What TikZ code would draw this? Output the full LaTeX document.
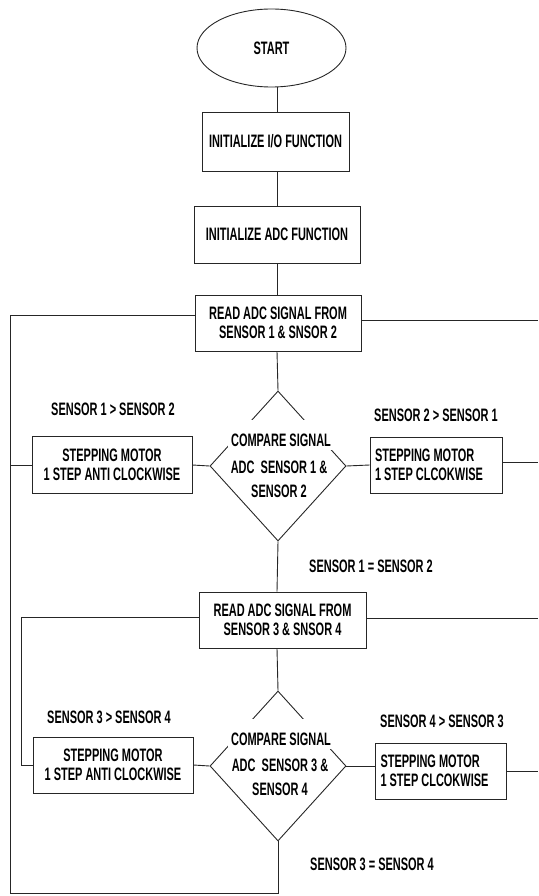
\documentclass[tikz,border=0pt]{standalone}
\usepackage{fontspec}
\setmainfont{Liberation Sans}[FakeStretch=0.61]
\usetikzlibrary{shapes.geometric}

\begin{document}
\begin{tikzpicture}[x=1pt, y=-1pt,
		txt/.style={font=\bfseries\fontsize{18}{19}\selectfont, inner sep=0pt},
		wide/.style={font=\bfseries\fontsize{18}{24}\selectfont, inner sep=0pt, align=center},
		flowbox/.style={txt, draw=black!85, line width=0.9pt, align=center},
		decide/.style={diamond, draw=black!85, line width=0.9pt, inner sep=0pt, minimum width=136, minimum height=150},
		cut/.style={txt, fill=white, anchor=base, text height=25, text depth=1, inner xsep=3, inner ysep=2},
		link/.style={draw=black!85, line width=0.9pt}]
	\useasboundingbox (0,0) rectangle (538,896);
	\coordinate (col) at (277,0);
	\coordinate (edge) at (538,0);
	\coordinate (loop) at (21,0);
	\coordinate (corner) at (10,893);
	% main column
	\node[ellipse, draw=black!85, line width=0.9pt, txt, minimum width=149, minimum height=78] (start) at (271.5,48) {START};
	\node[flowbox, minimum width=147, minimum height=59] (io) at (275.5,141.5) {INITIALIZE I/O FUNCTION};
	\node[flowbox, minimum width=166, minimum height=57] (adc) at (277,234.5) {INITIALIZE ADC FUNCTION};
	\node[flowbox, minimum width=166, minimum height=56] (read1) at (278,323) {READ ADC SIGNAL FROM\\SENSOR 1 \& SNSOR 2};
	\node[decide] (dia1) at (278,466) {};
	\node[cut] (cmp1) at (281,446.5) {COMPARE SIGNAL};
	\node[wide] (adc1) at (279,479) {ADC\ \ SENSOR 1 \&\\SENSOR 2};
	\node[flowbox, minimum width=160, minimum height=57] (left1) at (112,465) {STEPPING MOTOR\\1 STEP ANTI CLOCKWISE};
	\node[flowbox, align=flush left, text width=122, minimum width=132, minimum height=56] (right1) at (436,465) {STEPPING MOTOR\\1 STEP CLCOKWISE};
	\node[flowbox, minimum width=167, minimum height=56] (read2) at (282.5,620) {READ ADC SIGNAL FROM\\SENSOR 3 \& SNSOR 4};
	\node[decide] (dia2) at (278,766) {};
	\node[cut] (cmp2) at (281,745.5) {COMPARE SIGNAL};
	\node[wide] (adc2) at (280,777) {ADC\ \ SENSOR 3 \&\\SENSOR 4};
	\node[flowbox, minimum width=160, minimum height=56] (left2) at (113,765) {STEPPING MOTOR\\1 STEP ANTI CLOCKWISE};
	\node[flowbox, align=flush left, text width=121, minimum width=131, minimum height=56] (right2) at (441,771) {STEPPING MOTOR\\1 STEP CLCOKWISE};
	% branch labels
	\foreach \x/\y/\name/\text in {
		113/409/lt1/SENSOR 1 > SENSOR 2,
		436/415/gt1/SENSOR 2 > SENSOR 1,
		371/566/eq1/SENSOR 1 = SENSOR 2,
		109/717/lt2/SENSOR 3 > SENSOR 4,
		442/721/gt2/SENSOR 4 > SENSOR 3,
		372/864/eq2/SENSOR 3 = SENSOR 4
	}{
		\node[txt] (\name) at (\x,\y) {\text};
	}
	% ends of the lines that leave the picture
	\coordinate (r1in) at ([yshift=8pt]read1.west);
	\coordinate (r1out) at ([yshift=3pt]read1.east);
	\coordinate (m1out) at ([yshift=3pt]right1.east);
	\coordinate (r2in) at ([yshift=3pt]read2.west);
	\coordinate (r2out) at ([yshift=2pt]read2.east);
	% connectors
	\draw[link] (start.south -| col) -- (io.north -| col);
	\draw[link] (io.south -| col) -- (adc.north -| col);
	\draw[link] (adc.south -| col) -- (read1.north -| col);
	\draw[link] (read1.south -| col) -- (dia1.north);
	\draw[link] (dia1.west) -- (left1.east);
	\draw[link] (dia1.east) -- (right1.west);
	\draw[link] (dia1.south) -- (read2.north -| col);
	\draw[link] (read2.south -| col) -- (dia2.north);
	\draw[link] (dia2.west) -- (left2.east);
	\draw[link] (dia2.east) -- (dia2.east -| right2.west);
	% loops back
	\draw[link] (dia2.south) |- (corner) |- (r1in);
	\draw[link] (left1.west) -- (corner |- left1.west);
	\draw[link] (r2in) -| (loop |- left2.west) -- (left2.west);
	\draw[link] (r1out) -- (edge |- r1out);
	\draw[link] (m1out) -- (edge |- m1out);
	\draw[link] (r2out) -- (edge |- r2out);
	\draw[link] (right2.east) -- (edge |- right2.east);
\end{tikzpicture}
\end{document}
